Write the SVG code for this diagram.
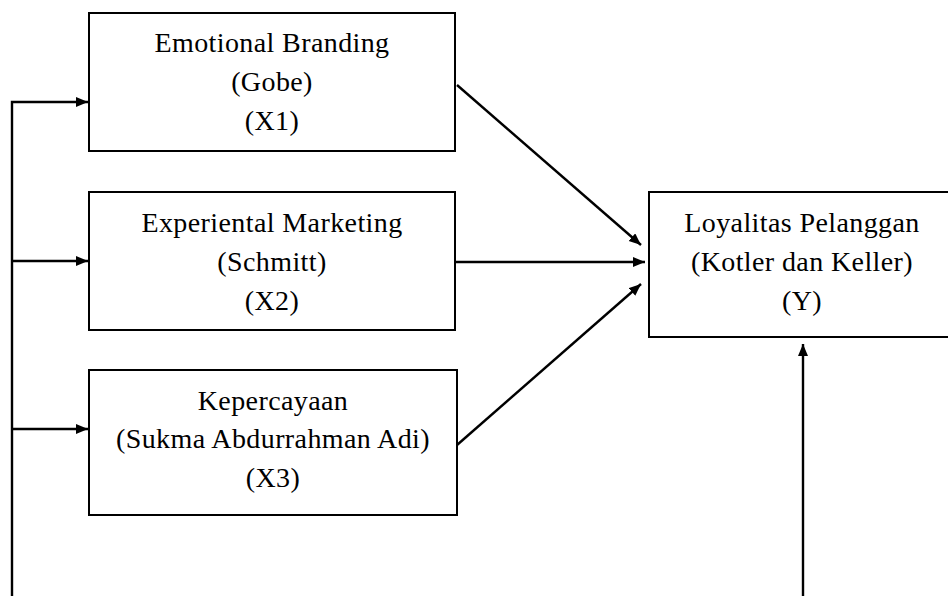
<svg xmlns="http://www.w3.org/2000/svg" width="948" height="596" viewBox="0 0 948 596">
<style>
.box{fill:#fff;stroke:#000;stroke-width:2}
.t{font-family:"Liberation Serif","Times New Roman",serif;font-size:28px;letter-spacing:0.4px;text-anchor:middle;fill:#000}
.c{fill:none;stroke:#000;stroke-width:2.4}
</style>
<defs>
<marker id="ah" markerUnits="userSpaceOnUse" markerWidth="13" markerHeight="11" refX="12" refY="5" orient="auto">
<path d="M0,0 L12,5 L0,10 z" fill="#000"/>
</marker>
</defs>
<rect width="948" height="596" fill="#fff"/>
<g id="x1">
<rect class="box" x="89" y="13" width="366" height="138"/>
<text class="t" x="272" y="52">Emotional Branding</text>
<text class="t" x="272" y="91">(Gobe)</text>
<text class="t" x="272" y="130">(X1)</text>
</g>
<g id="x2">
<rect class="box" x="89" y="192" width="366" height="138"/>
<text class="t" x="272" y="232">Experiental Marketing</text>
<text class="t" x="272" y="271">(Schmitt)</text>
<text class="t" x="272" y="310">(X2)</text>
</g>
<g id="x3">
<rect class="box" x="89" y="370" width="368" height="145"/>
<text class="t" x="273" y="410">Kepercayaan</text>
<text class="t" x="273" y="448">(Sukma Abdurrahman Adi)</text>
<text class="t" x="273" y="487">(X3)</text>
</g>
<g id="y">
<rect class="box" x="649" y="192" width="308" height="145"/>
<text class="t" x="802" y="232">Loyalitas Pelanggan</text>
<text class="t" x="802" y="271">(Kotler dan Keller)</text>
<text class="t" x="802" y="310">(Y)</text>
</g>
<g id="connectors">
<path class="c" d="M12,596 V102 H88" marker-end="url(#ah)"/>
<path class="c" d="M12,261 H88" marker-end="url(#ah)"/>
<path class="c" d="M12,429 H88" marker-end="url(#ah)"/>
<path class="c" d="M457,85 L641,245" marker-end="url(#ah)"/>
<path class="c" d="M455,262 L645,262" marker-end="url(#ah)"/>
<path class="c" d="M457,445 L641,284" marker-end="url(#ah)"/>
<path class="c" d="M803,596 V344" marker-end="url(#ah)"/>
</g>
</svg>
